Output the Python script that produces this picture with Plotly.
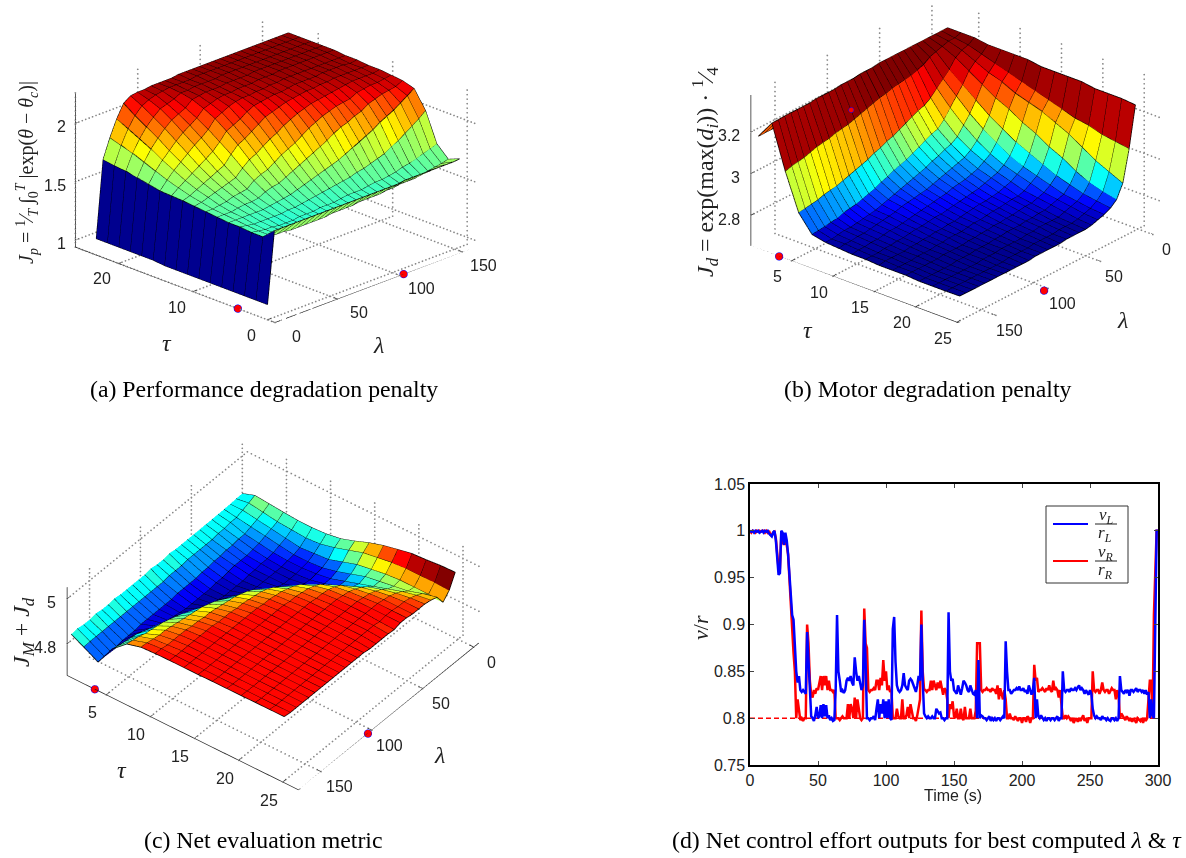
import math
import plotly.graph_objects as go

W, H = 1186, 858
JET = [[0, "rgb(0,0,143)"], [.11, "rgb(0,0,255)"], [.365, "rgb(0,255,255)"], [.625, "rgb(255,255,0)"], [.875, "rgb(255,0,0)"], [1, "rgb(128,0,0)"]]

# Panel (a): rows = lambda, columns = tau
lam_a = [0,5.5,11,16.5,22,27.5,33,38.5,44,49.5,55,60.5,66,71.5,77,82.5,88,93.5,99,104.5,110,115.5,121,126.5,132,137.5,143,148.5,154]
tau_a = [0,1.53,3.07,4.6,6.13,7.67,9.2,10.73,12.27,13.8,15.33,16.87,18.4,19.93,21.47,23]
Z_a = [
[1.07,1.07,1.07,1.07,1.07,1.07,1.07,1.07,1.07,1.07,1.08,1.08,1.08,1.08,1.08,1.08],
[1.68,1.59,1.59,1.60,1.60,1.61,1.62,1.63,1.64,1.645,1.65,1.67,1.69,1.71,1.72,1.735],
[1.68,1.58,1.58,1.59,1.60,1.61,1.62,1.64,1.66,1.69,1.72,1.76,1.80,1.84,1.87,1.90],
[1.68,1.57,1.57,1.58,1.60,1.61,1.63,1.66,1.69,1.73,1.78,1.83,1.89,1.94,1.99,2.04],
[1.68,1.57,1.57,1.58,1.60,1.62,1.64,1.68,1.72,1.77,1.83,1.89,1.96,2.02,2.08,2.15],
[1.68,1.56,1.56,1.58,1.60,1.63,1.66,1.70,1.75,1.81,1.88,1.95,2.02,2.08,2.14,2.19],
[1.68,1.56,1.56,1.58,1.60,1.63,1.67,1.72,1.78,1.85,1.93,2.00,2.07,2.13,2.17,2.20],
[1.68,1.56,1.56,1.58,1.61,1.64,1.68,1.74,1.81,1.89,1.97,2.04,2.10,2.15,2.19,2.20],
[1.68,1.56,1.57,1.59,1.62,1.67,1.73,1.80,1.88,1.95,2.02,2.08,2.13,2.17,2.20,2.21],
[1.68,1.56,1.57,1.59,1.63,1.69,1.76,1.85,1.94,2.02,2.09,2.14,2.18,2.20,2.21,2.21],
[1.68,1.56,1.57,1.60,1.64,1.70,1.78,1.88,1.97,2.05,2.12,2.16,2.19,2.20,2.21,2.21],
[1.68,1.57,1.58,1.61,1.66,1.73,1.82,1.92,2.01,2.08,2.15,2.18,2.20,2.21,2.21,2.21],
[1.68,1.57,1.58,1.62,1.68,1.76,1.86,1.96,2.05,2.12,2.17,2.19,2.20,2.21,2.21,2.22],
[1.68,1.57,1.58,1.63,1.70,1.79,1.89,1.99,2.09,2.15,2.18,2.19,2.20,2.21,2.22,2.22],
[1.68,1.57,1.59,1.64,1.72,1.82,1.92,2.03,2.11,2.16,2.18,2.20,2.21,2.21,2.22,2.22],
[1.68,1.58,1.60,1.65,1.74,1.85,1.96,2.06,2.13,2.17,2.19,2.20,2.21,2.22,2.22,2.22],
[1.68,1.58,1.60,1.66,1.76,1.88,2.00,2.09,2.15,2.18,2.19,2.20,2.21,2.22,2.22,2.22],
[1.68,1.58,1.60,1.67,1.78,1.91,2.03,2.11,2.16,2.18,2.20,2.21,2.21,2.22,2.22,2.22],
[1.68,1.58,1.61,1.69,1.81,1.95,2.06,2.13,2.17,2.19,2.20,2.21,2.22,2.22,2.22,2.22],
[1.68,1.59,1.62,1.70,1.84,1.98,2.08,2.14,2.18,2.20,2.21,2.21,2.22,2.22,2.22,2.22],
[1.69,1.59,1.62,1.72,1.87,2.00,2.10,2.15,2.18,2.20,2.21,2.22,2.22,2.22,2.22,2.22],
[1.69,1.60,1.63,1.74,1.90,2.03,2.11,2.16,2.19,2.20,2.21,2.22,2.22,2.22,2.22,2.22],
[1.69,1.60,1.64,1.76,1.93,2.05,2.12,2.17,2.19,2.20,2.21,2.22,2.22,2.22,2.22,2.22],
[1.69,1.60,1.66,1.80,1.97,2.09,2.15,2.18,2.20,2.21,2.21,2.22,2.22,2.22,2.22,2.22],
[1.69,1.61,1.67,1.83,2.00,2.11,2.16,2.19,2.20,2.21,2.21,2.22,2.22,2.22,2.22,2.22],
[1.69,1.62,1.69,1.87,2.03,2.13,2.17,2.19,2.20,2.21,2.21,2.22,2.22,2.22,2.22,2.22],
[1.69,1.63,1.71,1.91,2.07,2.14,2.17,2.19,2.20,2.21,2.21,2.22,2.22,2.22,2.22,2.22],
[1.69,1.64,1.73,1.95,2.11,2.15,2.18,2.19,2.20,2.20,2.21,2.22,2.22,2.22,2.22,2.22],
[1.695,1.655,1.75,2.00,2.15,2.18,2.19,2.20,2.20,2.21,2.21,2.22,2.22,2.22,2.22,2.22],
]

# Panel (b)
lam_b = [0,6,12,18,24,30,36,42,48,54,60,66,72,78,84,90,96,102,108,114,120,126,132,138,144,150,156,162,168]
tau_b = [.36,2,3.62,5.24,6.86,8.48,10.1,11.72,13.34,14.96,16.58,18.2,19.82,21.44,23.06,24.7]
Z_b = [
[3.17,3.28,3.28,3.28,3.27,3.27,3.27,3.27,3.26,3.26,3.26,3.26,3.25,3.25,3.25,3.244],
[3.17,3.28,3.27,3.26,3.24,3.22,3.20,3.18,3.16,3.14,3.12,3.10,3.09,3.07,3.06,3.05],
[3.17,3.28,3.27,3.25,3.22,3.19,3.17,3.14,3.12,3.10,3.07,3.04,3.00,2.96,2.93,2.90],
[3.17,3.28,3.26,3.23,3.19,3.15,3.11,3.08,3.04,3.01,2.97,2.94,2.90,2.87,2.85,2.836],
[3.17,3.28,3.25,3.19,3.14,3.09,3.04,3.00,2.96,2.93,2.90,2.87,2.85,2.83,2.82,2.81],
[3.17,3.28,3.24,3.16,3.10,3.04,2.99,2.95,2.91,2.88,2.86,2.84,2.82,2.81,2.80,2.795],
[3.17,3.28,3.22,3.13,3.06,3.00,2.95,2.91,2.88,2.86,2.84,2.82,2.81,2.80,2.79,2.785],
[3.17,3.28,3.21,3.10,3.02,2.96,2.92,2.89,2.86,2.84,2.82,2.81,2.80,2.79,2.78,2.775],
[3.17,3.28,3.20,3.08,2.99,2.94,2.90,2.87,2.85,2.83,2.81,2.80,2.79,2.78,2.775,2.77],
[3.17,3.28,3.195,3.07,2.98,2.93,2.89,2.86,2.84,2.82,2.81,2.80,2.79,2.78,2.775,2.77],
[3.17,3.28,3.19,3.055,2.965,2.915,2.88,2.85,2.83,2.815,2.805,2.795,2.785,2.78,2.775,2.77],
[3.17,3.28,3.185,3.04,2.95,2.905,2.87,2.845,2.825,2.81,2.80,2.79,2.785,2.78,2.77,2.77],
[3.17,3.275,3.175,3.025,2.935,2.89,2.86,2.84,2.82,2.81,2.80,2.79,2.78,2.775,2.77,2.765],
[3.17,3.275,3.17,3.01,2.92,2.88,2.85,2.83,2.815,2.805,2.795,2.785,2.78,2.775,2.77,2.765],
[3.17,3.275,3.16,3.00,2.91,2.87,2.84,2.825,2.81,2.80,2.79,2.785,2.78,2.77,2.77,2.765],
[3.17,3.27,3.15,2.985,2.90,2.86,2.835,2.82,2.805,2.795,2.79,2.78,2.775,2.77,2.765,2.765],
[3.17,3.27,3.14,2.975,2.885,2.85,2.83,2.815,2.80,2.79,2.785,2.78,2.775,2.77,2.765,2.765],
[3.17,3.27,3.13,2.96,2.875,2.84,2.825,2.81,2.80,2.79,2.78,2.775,2.77,2.77,2.765,2.76],
[3.17,3.265,3.12,2.95,2.86,2.83,2.82,2.805,2.795,2.785,2.78,2.775,2.77,2.765,2.765,2.76],
[3.17,3.265,3.115,2.94,2.85,2.82,2.81,2.80,2.79,2.785,2.78,2.77,2.77,2.765,2.76,2.76],
[3.17,3.265,3.11,2.93,2.84,2.81,2.805,2.795,2.79,2.78,2.775,2.77,2.765,2.765,2.76,2.76],
[3.17,3.265,3.10,2.92,2.83,2.805,2.80,2.79,2.785,2.78,2.775,2.77,2.765,2.76,2.76,2.76],
[3.17,3.26,3.095,2.91,2.825,2.80,2.795,2.79,2.78,2.775,2.77,2.77,2.765,2.76,2.76,2.76],
[3.17,3.26,3.09,2.905,2.82,2.795,2.79,2.785,2.78,2.775,2.77,2.765,2.76,2.76,2.76,2.76],
[3.17,3.26,3.08,2.90,2.81,2.79,2.785,2.78,2.775,2.77,2.77,2.765,2.76,2.76,2.76,2.76],
[3.17,3.26,3.07,2.89,2.805,2.79,2.785,2.78,2.775,2.77,2.765,2.765,2.76,2.76,2.76,2.76],
[3.17,3.26,3.065,2.885,2.80,2.785,2.78,2.775,2.77,2.77,2.765,2.765,2.76,2.76,2.76,2.76],
[3.17,3.258,3.06,2.88,2.797,2.78,2.78,2.775,2.77,2.77,2.765,2.765,2.76,2.76,2.76,2.76],
[3.17,3.257,3.05,2.875,2.794,2.78,2.775,2.77,2.77,2.765,2.765,2.765,2.76,2.76,2.76,2.761],
]

# Panel (c)
lam_c = lam_b
tau_c = tau_b
Z_c = [
[4.83,4.852,4.846,4.84,4.835,4.834,4.838,4.848,4.869,4.893,4.912,4.926,4.939,4.943,4.949,4.951],
[4.83,4.84,4.83,4.82,4.815,4.81,4.815,4.83,4.85,4.87,4.88,4.89,4.895,4.895,4.895,4.892],
[4.83,4.83,4.82,4.81,4.80,4.79,4.795,4.80,4.82,4.84,4.85,4.86,4.865,4.865,4.865,4.862],
[4.83,4.82,4.81,4.80,4.79,4.78,4.78,4.785,4.80,4.82,4.84,4.85,4.86,4.87,4.89,4.906],
[4.83,4.82,4.80,4.79,4.78,4.775,4.775,4.78,4.79,4.81,4.83,4.85,4.87,4.89,4.905,4.915],
[4.83,4.815,4.80,4.785,4.775,4.77,4.77,4.775,4.79,4.81,4.84,4.87,4.89,4.905,4.915,4.92],
[4.83,4.815,4.795,4.78,4.775,4.77,4.77,4.78,4.80,4.83,4.865,4.89,4.905,4.915,4.92,4.92],
[4.83,4.81,4.795,4.78,4.77,4.77,4.77,4.79,4.82,4.86,4.89,4.905,4.915,4.92,4.92,4.92],
[4.83,4.81,4.79,4.78,4.77,4.77,4.78,4.80,4.85,4.885,4.905,4.915,4.92,4.925,4.925,4.925],
[4.83,4.81,4.79,4.775,4.765,4.77,4.785,4.83,4.875,4.90,4.915,4.92,4.925,4.925,4.925,4.925],
[4.83,4.81,4.785,4.77,4.765,4.775,4.81,4.855,4.89,4.91,4.92,4.925,4.925,4.925,4.92,4.917],
[4.83,4.81,4.785,4.77,4.765,4.785,4.83,4.875,4.90,4.915,4.92,4.925,4.925,4.925,4.925,4.92],
[4.835,4.805,4.78,4.765,4.765,4.80,4.855,4.89,4.91,4.92,4.925,4.925,4.925,4.925,4.925,4.92],
[4.83,4.805,4.78,4.765,4.77,4.815,4.87,4.90,4.915,4.92,4.925,4.925,4.925,4.925,4.925,4.92],
[4.83,4.805,4.78,4.765,4.775,4.83,4.88,4.905,4.92,4.925,4.925,4.925,4.925,4.925,4.925,4.92],
[4.835,4.80,4.78,4.765,4.785,4.845,4.89,4.91,4.92,4.925,4.925,4.925,4.925,4.925,4.925,4.925],
[4.83,4.80,4.775,4.765,4.80,4.86,4.895,4.915,4.925,4.925,4.925,4.925,4.925,4.925,4.925,4.925],
[4.83,4.80,4.775,4.77,4.81,4.87,4.90,4.915,4.925,4.925,4.925,4.925,4.925,4.925,4.925,4.925],
[4.83,4.80,4.775,4.775,4.825,4.88,4.905,4.92,4.925,4.925,4.925,4.925,4.925,4.925,4.925,4.925],
[4.83,4.80,4.775,4.78,4.84,4.885,4.91,4.92,4.925,4.925,4.925,4.925,4.925,4.925,4.925,4.925],
[4.83,4.80,4.775,4.79,4.85,4.89,4.91,4.92,4.925,4.925,4.925,4.925,4.925,4.925,4.925,4.925],
[4.835,4.80,4.775,4.80,4.86,4.895,4.915,4.925,4.925,4.925,4.925,4.925,4.925,4.925,4.925,4.925],
[4.83,4.80,4.77,4.81,4.87,4.90,4.915,4.925,4.925,4.925,4.925,4.925,4.925,4.925,4.925,4.925],
[4.83,4.80,4.77,4.82,4.875,4.905,4.92,4.925,4.925,4.925,4.925,4.925,4.925,4.925,4.925,4.925],
[4.835,4.80,4.77,4.83,4.88,4.91,4.92,4.925,4.925,4.925,4.925,4.925,4.925,4.925,4.925,4.925],
[4.83,4.80,4.765,4.835,4.885,4.91,4.92,4.925,4.925,4.925,4.925,4.925,4.925,4.925,4.925,4.925],
[4.83,4.80,4.765,4.84,4.895,4.915,4.92,4.925,4.925,4.925,4.925,4.925,4.925,4.925,4.925,4.925],
[4.835,4.80,4.765,4.845,4.90,4.92,4.925,4.925,4.925,4.925,4.925,4.925,4.925,4.925,4.925,4.925],
[4.832,4.798,4.763,4.853,4.906,4.923,4.926,4.927,4.927,4.927,4.928,4.928,4.928,4.929,4.929,4.929],
]

# Panel (d)
time_s = list(range(301))
nu_left = [
1,.999,1,.998,1,.999,1,.998,.999,1,
.998,1,.999,1,.997,.995,.994,.998,1,.99,
.97,.953,.955,1,.998,.985,.998,.99,.975,.95,
.925,.91,.905,.875,.85,.838,.845,.83,.828,.83,
.828,.826,.892,.865,.828,.802,.80,.797,.803,.812,
.80,.802,.814,.80,.815,.802,.814,.80,.803,.798,
.80,.797,.798,.83,.91,.85,.84,.828,.83,.827,
.83,.84,.843,.84,.845,.838,.835,.865,.85,.84,
.845,.838,.83,.835,.905,.86,.80,.80,.798,.80,
.80,.802,.798,.81,.82,.80,.815,.805,.82,.80,
.818,.80,.82,.80,.798,.895,.908,.86,.835,.83,
.828,.83,.835,.848,.835,.832,.83,.84,.842,.84,
.836,.83,.828,.835,.845,.84,.90,.84,.805,.802,
.80,.802,.80,.80,.802,.80,.80,.81,.808,.805,
.806,.80,.80,.798,.80,.80,.913,.85,.84,.842,
.83,.828,.826,.835,.83,.825,.832,.84,.838,.835,
.83,.828,.835,.83,.826,.825,.83,.80,.862,.80,
.803,.802,.80,.80,.798,.80,.802,.797,.80,.798,
.80,.797,.80,.80,.798,.80,.802,.80,.882,.85,
.83,.83,.826,.828,.83,.83,.832,.83,.834,.83,
.83,.832,.828,.83,.826,.835,.83,.825,.83,.843,
.80,.82,.802,.80,.803,.80,.798,.80,.797,.80,
.80,.798,.80,.80,.798,.80,.802,.797,.80,.80,
.85,.83,.828,.83,.83,.828,.832,.83,.83,.832,
.83,.833,.835,.83,.832,.83,.826,.83,.828,.825,
.83,.826,.81,.803,.80,.802,.80,.80,.798,.802,
.80,.80,.798,.80,.798,.797,.80,.80,.798,.80,
.797,.80,.845,.83,.828,.826,.83,.828,.83,.824,
.83,.83,.828,.83,.832,.828,.83,.83,.828,.83,
.826,.83,.825,.828,.80,.82,.803,.80,.89,1,1]
nu_right = [
1,.998,1,.999,.998,1,.999,1,.999,1,
1,.998,1,.998,1,.996,.995,.998,.999,.992,
.975,.96,.96,.995,.99,.985,.99,.985,.975,.945,
.925,.895,.87,.85,.80,.82,.805,.798,.80,.797,
.80,.80,.90,.88,.84,.825,.822,.83,.826,.832,
.83,.84,.845,.83,.845,.835,.845,.83,.84,.83,
.83,.828,.83,.80,.80,.80,.798,.80,.802,.80,
.80,.80,.815,.80,.815,.81,.80,.822,.80,.82,
.81,.80,.798,.80,.917,.88,.875,.83,.828,.83,
.83,.832,.83,.84,.84,.83,.843,.835,.862,.84,
.85,.83,.835,.828,.83,.80,.80,.80,.81,.802,
.80,.80,.82,.80,.80,.803,.812,.80,.815,.808,
.80,.80,.797,.803,.81,.82,.915,.85,.83,.83,
.828,.83,.83,.84,.83,.84,.835,.83,.838,.832,
.84,.832,.825,.832,.83,.82,.80,.815,.81,.818,
.802,.80,.81,.80,.80,.81,.80,.798,.812,.80,
.80,.80,.81,.80,.80,.80,.808,.88,.88,.88,
.83,.828,.83,.83,.832,.83,.83,.828,.832,.83,
.83,.826,.835,.82,.832,.826,.82,.83,.82,.80,
.80,.805,.80,.80,.798,.802,.80,.797,.80,.80,
.795,.80,.80,.796,.802,.80,.795,.80,.80,.857,
.84,.843,.828,.83,.83,.832,.83,.828,.832,.83,
.835,.83,.828,.84,.83,.832,.83,.822,.83,.815,
.80,.80,.803,.80,.802,.80,.797,.80,.795,.798,
.80,.796,.80,.797,.80,.803,.797,.80,.795,.80,
.80,.80,.85,.83,.828,.83,.83,.826,.83,.838,
.83,.828,.83,.83,.826,.83,.832,.83,.83,.82,
.83,.825,.80,.805,.803,.80,.798,.802,.80,.797,
.80,.796,.80,.798,.795,.80,.798,.797,.80,.795,
.80,.797,.80,.82,.84,.84,.80,.91,.95,1,1]
ref_t = [0, 300]
ref_v = [.8, .8]

captions = ["(a) Performance degradation penalty", "(b) Motor degradation penalty", "(c) Net evaluation metric",
            "(d) Net control effort outputs for best computed <i>λ</i> &amp; <i>τ</i>"]

def px(x): return x / W
def py(y): return 1 - y / H

fig = go.Figure()

def panel(name, lam, tau, Z, xr, yr, zr, lam_t, tau_t, z_t, front, cmin, cmax, best, domain_c, dom_wh, phi, el, k, asp,
          lam_shift, tau_shift, z_shift):
    scene = dict(
        domain=dict(x=[px(domain_c[0]-dom_wh[0]/2), px(domain_c[0]+dom_wh[0]/2)],
                    y=[py(domain_c[1]+dom_wh[1]/2), py(domain_c[1]-dom_wh[1]/2)]),
        aspectmode="manual", aspectratio=dict(x=k, y=k, z=asp*k),
        camera=dict(projection=dict(type="orthographic"), center=dict(x=0, y=0, z=0), up=dict(x=0, y=0, z=1),
                    eye=dict(x=2*math.cos(el)*math.cos(phi), y=2*math.cos(el)*math.sin(phi), z=2*math.sin(el))),
        xaxis=dict(range=xr, visible=False), yaxis=dict(range=yr, visible=False), zaxis=dict(range=zr, visible=False),
        bgcolor="rgba(0,0,0,0)",
    )
    nl, nt = len(lam), len(tau)
    vx, vy, vz, fi, fj, fk, inten = [], [], [], [], [], [], []
    for a in range(nl):
        for b in range(nt):
            vx.append(lam[a]); vy.append(tau[b]); vz.append(Z[a][b])
    for a in range(nl-1):
        for b in range(nt-1):
            p = a*nt+b; q = p+1; r = p+nt; s = r+1
            fi += [p, q]; fj += [q, s]; fk += [r, r]
            inten += [Z[a][b], Z[a][b]]
    fig.add_trace(go.Mesh3d(x=vx, y=vy, z=vz, i=fi, j=fj, k=fk, intensity=inten, intensitymode="cell",
                            colorscale=JET, cmin=cmin, cmax=cmax, showscale=False, flatshading=True, hoverinfo="skip",
                            lighting=dict(ambient=1, diffuse=0, specular=0, roughness=1, fresnel=0), scene=name))
    gx, gy, gz = [], [], []
    for a in range(nl):
        for b in range(nt):
            gx.append(lam[a]); gy.append(tau[b]); gz.append(Z[a][b])
        gx.append(None); gy.append(None); gz.append(None)
    for b in range(nt):
        for a in range(nl):
            gx.append(lam[a]); gy.append(tau[b]); gz.append(Z[a][b])
        gx.append(None); gy.append(None); gz.append(None)
    fig.add_trace(go.Scatter3d(x=gx, y=gy, z=gz, mode="lines", line=dict(color="#000", width=1.6), hoverinfo="skip", showlegend=False, scene=name))
    fx, fy = front
    bx = xr[1] if fx == xr[0] else xr[0]
    by = yr[1] if fy == yr[0] else yr[0]
    rx, ry, rz = xr[1]-xr[0], yr[1]-yr[0], zr[1]-zr[0]
    dx, dy, dz = [], [], []
    def dots(p, q):
        # the dotted grid of the box: one small dot about every 5 px of the drawn segment
        n = max(2, int(290 * math.sqrt(((q[0]-p[0])/rx)**2 + ((q[1]-p[1])/ry)**2 + ((q[2]-p[2])/rz*asp)**2) / 5))
        for m in range(n+1):
            f = m / n
            dx.append(p[0]+(q[0]-p[0])*f); dy.append(p[1]+(q[1]-p[1])*f); dz.append(p[2]+(q[2]-p[2])*f)
    for t in lam_t:
        dots((t, fy, zr[0]), (t, by, zr[0])); dots((t, by, zr[0]), (t, by, zr[1]))
    for t in tau_t:
        dots((fx, t, zr[0]), (bx, t, zr[0])); dots((bx, t, zr[0]), (bx, t, zr[1]))
    for t in z_t:
        dots((fx, by, t), (bx, by, t)); dots((bx, by, t), (bx, fy, t))
    fig.add_trace(go.Scatter3d(x=dx, y=dy, z=dz, mode="markers", marker=dict(size=1, color="#888", line=dict(width=0)), hoverinfo="skip", showlegend=False, scene=name))
    sx, sy, sz = [], [], []
    def seg(p, q):
        sx.extend([p[0], q[0], None]); sy.extend([p[1], q[1], None]); sz.extend([p[2], q[2], None])
    seg((fx, fy, zr[0]), (fx, by, zr[0])); seg((fx, fy, zr[0]), (bx, fy, zr[0])); seg((fx, by, zr[0]), (fx, by, zr[1]))
    for t in lam_t:
        seg((t, fy, zr[0]), (t, fy+(by-fy)*.02, zr[0]))
    for t in tau_t:
        seg((fx, t, zr[0]), (fx+(bx-fx)*.02, t, zr[0]))
    for t in z_t:
        seg((fx, by, t), (fx+(bx-fx)*.02, by, t))
    fig.add_trace(go.Scatter3d(x=sx, y=sy, z=sz, mode="lines", line=dict(color="#222", width=1.5), hoverinfo="skip", showlegend=False, scene=name))
    fig.add_trace(go.Scatter3d(x=[fx, best[0]], y=[best[1], fy], z=[zr[0], zr[0]], mode="markers",
                               marker=dict(size=4.5, color="red", line=dict(color="blue", width=1)), hoverinfo="skip", showlegend=False, scene=name))
    fig.add_trace(go.Scatter3d(x=[best[0]], y=[best[1]], z=[best[2]], mode="markers",
                               marker=dict(size=3, color="red", line=dict(color="blue", width=1)), hoverinfo="skip", showlegend=False, scene=name))
    ann = []
    tf = dict(family="Liberation Sans", size=16, color="#222")
    for t in lam_t:
        ann.append(dict(x=t, y=fy, z=zr[0], text=str(t), showarrow=False, xshift=lam_shift[0], yshift=lam_shift[1], font=tf))
    for t in tau_t:
        ann.append(dict(x=fx, y=t, z=zr[0], text=str(t), showarrow=False, xshift=tau_shift[0], yshift=tau_shift[1], font=tf))
    for t in z_t:
        ann.append(dict(x=fx, y=by, z=t, text=str(t), showarrow=False, xanchor="right", xshift=z_shift[0], yshift=z_shift[1], font=tf))
    scene["annotations"] = ann
    fig.update_layout(**{name: scene})

panel("scene", lam_a, tau_a, Z_a, [0, 160], [-1, 25.8], [.94, 2.26], [0, 50, 100, 150], [0, 10, 20], [1, 1.5, 2],
      (0, -1), 1.08, 2.24, (103, 4, 1.58), (274.5, 169.5), (530, 330), math.radians(225), math.radians(22.2), 1.711, .59,
      (22, -14), (-16, -16), (-7, -4))
panel("scene2", lam_b, tau_b, Z_b, [-6, 173], [.1, 26.8], [2.653, 3.378], [0, 50, 100, 150], [5, 10, 15, 20, 25], [2.8, 3, 3.2],
      (173, 26.8), 2.77, 3.28, (104, 3.5, 3.177), (955, 163), (450, 320), math.radians(40.3), math.radians(25.9), 1.81, .58,
      (14, -15), (-14, -16), (-9, -4))
panel("scene3", lam_c, tau_c, Z_c, [-5, 172], [.57, 26.8], [4.659, 5.052], [0, 50, 100, 150], [5, 10, 15, 20, 25], [4.8, 5],
      (172, 26.8), 4.76, 4.95, (104, 3.7, 4.766), (273, 615), (530, 400), math.radians(37.9), math.radians(39.4), 1.467, .39,
      (18, -15), (-14, -18), (-9, -4))

fig.add_trace(go.Scatter(x=time_s, y=nu_right, mode="lines", line=dict(color="#ff0000", width=2.5), showlegend=False))
fig.add_trace(go.Scatter(x=ref_t, y=ref_v, mode="lines", line=dict(color="#ff0000", width=1.5, dash="5px,3px"), showlegend=False))
fig.add_trace(go.Scatter(x=time_s, y=nu_left, mode="lines", line=dict(color="#0000ff", width=2.5), showlegend=False))

tick_font = dict(family="Liberation Sans", size=16, color="#222")
fig.update_layout(
    width=W, height=H, margin=dict(l=0, r=0, t=0, b=0), paper_bgcolor="white", plot_bgcolor="white",
    xaxis=dict(domain=[px(750), px(1158)], range=[0, 300], tickvals=[0, 50, 100, 150, 200, 250, 300], ticks="inside", ticklen=4,
               showgrid=False, zeroline=False, showline=True, mirror="ticks", linecolor="black", linewidth=1.5, tickfont=tick_font, automargin=False),
    yaxis=dict(domain=[py(765), py(484)], range=[.75, 1.05], tickvals=[.75, .8, .85, .9, .95, 1, 1.05],
               ticktext=["0.75", "0.8", "0.85", "0.9", "0.95", "1", "1.05"], ticks="inside", ticklen=4,
               showgrid=False, zeroline=False, showline=True, mirror="ticks", linecolor="black", linewidth=1.5, tickfont=tick_font, automargin=False),
    showlegend=False,
)

def note(x, y, text, size, family="Liberation Serif", angle=0, color="#222"):
    fig.add_annotation(x=px(x), y=py(y), xref="paper", yref="paper", text=text, showarrow=False, textangle=angle,
                       font=dict(family=family, size=size, color=color), xanchor="center", yanchor="middle")

note(264, 389, captions[0], 23.8, color="black")
note(928, 389, captions[1], 23.8, color="black")
note(263, 840, captions[2], 23.8, color="black")
note(927, 840, captions[3], 23.8, color="black")
note(167, 343, "<i>τ</i>", 24); note(378, 345, "<i>λ</i>", 24)
note(808, 330, "<i>τ</i>", 24); note(1122, 320, "<i>λ</i>", 24)
note(122, 770, "<i>τ</i>", 24); note(439, 755, "<i>λ</i>", 24)
note(700, 628, "<i>ν</i>/<i>r</i>", 22, angle=-90)
note(953, 795, "Time (s)", 16, family="Liberation Sans")
note(27, 173, "<i>J<sub>p</sub></i> = <sup>1</sup>⁄<sub><i>T</i></sub> ∫<sub>0</sub><sup><i>T</i></sup> |exp(<i>θ</i> − <i>θ<sub>c</sub></i>)|", 20, angle=-90)
note(705, 172, "<i>J<sub>d</sub></i> = exp(max(<i>d<sub>i</sub></i>)) · <sup>1</sup>⁄<sub>4</sub>", 24, angle=-90)
note(23, 632, "<i>J<sub>M</sub></i> + <i>J<sub>d</sub></i>", 24, angle=-90)

# Legend of panel (d)
fig.add_shape(type="rect", xref="paper", yref="paper", x0=px(1046), x1=px(1128), y0=py(583), y1=py(506), line=dict(color="#333", width=1), fillcolor="white", layer="above")
for yb, col, top, bot, ty, by_ in ((524, "#0000ff", "<i>ν<sub>L</sub></i>", "<i>r<sub>L</sub></i>", 516, 534), (561, "#ff0000", "<i>ν<sub>R</sub></i>", "<i>r<sub>R</sub></i>", 553, 571)):
    fig.add_shape(type="line", xref="paper", yref="paper", x0=px(1053), x1=px(1088), y0=py(yb), y1=py(yb), line=dict(color=col, width=2), layer="above")
    fig.add_shape(type="line", xref="paper", yref="paper", x0=px(1095), x1=px(1117), y0=py(yb), y1=py(yb), line=dict(color="#222", width=1), layer="above")
    note(1106, ty, top, 17); note(1105, by_, bot, 17)

fig.write_html("out.html", config=dict(displayModeBar=False), post_script="document.body.style.margin='0';document.body.style.overflow='hidden';")
